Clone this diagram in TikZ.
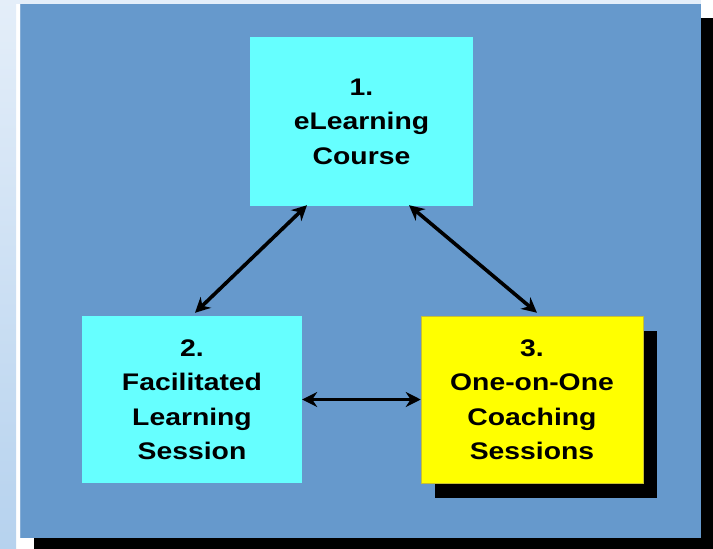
\documentclass[tikz,border=0pt]{standalone}
\usepackage{fontspec}
\usetikzlibrary{arrows.meta}
\newfontfamily\boxfont{Liberation Sans}[FakeStretch=1.18]
\definecolor{panelblue}{HTML}{6699CC}
\definecolor{boxcyan}{HTML}{66FFFF}
\definecolor{boxyellow}{HTML}{FFFF00}
\definecolor{striptop}{HTML}{E4EEF9}
\definecolor{stripbot}{HTML}{B6D2EE}
\tikzset{
  stepbox/.style={minimum width=#1, inner sep=0pt, align=center,
    font=\boxfont\bfseries\fontsize{24pt}{34.5pt}\selectfont, text=black},
  link/.style={line width=3.6pt, {Stealth[length=15pt,width=15pt]}-{Stealth[length=15pt,width=15pt]}}
}
\begin{document}
\begin{tikzpicture}[x=1pt,y=-1pt]
\useasboundingbox (0,0) rectangle (713,549);
\fill[white] (0,0) rectangle (713,549);
\shade[top color=striptop, bottom color=stripbot] (0,0) rectangle (16,549);
\fill[striptop] (0,0) rectangle (701,4);
% panel shadow and panel
\fill[black] (34,18) rectangle (713,549);
\fill[panelblue] (20,4) rectangle (701,538);
\draw[panelblue!80!white, line width=0.8pt] (20.4,4) -- (20.4,538);
% boxes
\fill[black] (435,331) rectangle (657,498);
\node[stepbox=223pt, minimum height=169pt, fill=boxcyan] (box1) at (361.5,121.5) {1.\\eLearning\\Course};
\node[stepbox=220pt, minimum height=167pt, fill=boxcyan] (box2) at (192,399.5) {2.\\Facilitated\\Learning\\Session};
\node[stepbox=222pt, minimum height=167pt, fill=boxyellow, draw=yellow!75!black, line width=0.5pt] (box3) at (532,399.5) {3.\\One-on-One\\Coaching\\Sessions};
% connectors
\draw[link] ([xshift=3pt,yshift=3pt]box2.north) -- ([xshift=-54.5pt,yshift=1pt]box1.south);
\draw[link] ([xshift=47.5pt,yshift=1pt]box1.south) -- ([xshift=5pt,yshift=3pt]box3.north);
\draw[link] (box2.east) -- (box3.west);
\end{tikzpicture}
\end{document}
